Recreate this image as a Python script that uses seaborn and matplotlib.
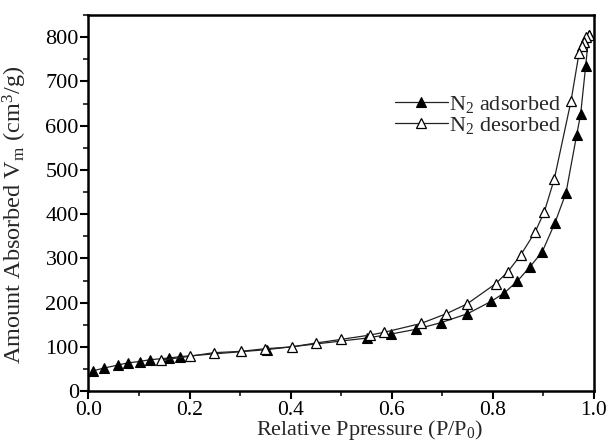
import matplotlib
matplotlib.use("Agg")
import matplotlib.pyplot as plt
import seaborn as sns
from matplotlib.ticker import MultipleLocator, FormatStrFormatter

# Adsorption branch (filled triangles)
ads_p = [0.009, 0.030, 0.058, 0.078, 0.101, 0.121, 0.160, 0.181, 0.354,
         0.551, 0.598, 0.649, 0.698, 0.750, 0.797, 0.823, 0.849, 0.873,
         0.898, 0.923, 0.945, 0.966, 0.974, 0.984, 0.990]
ads_v = [46, 52, 59, 64, 67, 71, 75, 78, 94,
         120, 129, 140, 155, 175, 203, 222, 249, 280,
         315, 380, 448, 578, 626, 735, 805]

# Desorption branch (open triangles)
des_p = [0.990, 0.984, 0.981, 0.976, 0.971, 0.955, 0.922, 0.902, 0.884,
         0.855, 0.830, 0.806, 0.749, 0.708, 0.658, 0.585, 0.558, 0.500,
         0.451, 0.402, 0.350, 0.302, 0.248, 0.201, 0.144]
des_v = [805, 800, 790, 780, 765, 656, 480, 405, 360,
         307, 270, 243, 197, 175, 153, 133, 127, 117,
         109, 100, 96, 90, 87, 79, 70]

labels = [r"N$_2$ adsorbed", r"N$_2$ desorbed"]

sns.set_style("ticks")
plt.rcParams["font.family"] = ["Liberation Serif", "DejaVu Serif"]
plt.rcParams["mathtext.fontset"] = "custom"
plt.rcParams["mathtext.rm"] = "Liberation Serif"
plt.rcParams["mathtext.it"] = "Liberation Serif:italic"
plt.rcParams["mathtext.bf"] = "Liberation Serif:bold"

fig = plt.figure(figsize=(6.09, 4.43), dpi=100)
ax = fig.add_axes([0.1453, 0.117, 0.8297, 0.849])

sns.lineplot(x=ads_p, y=ads_v, ax=ax, sort=False, estimator=None,
             color="#222222", linewidth=0.9, marker="^", markersize=7.5,
             markerfacecolor="black", markeredgecolor="black",
             markeredgewidth=0.8, label=labels[0])
sns.lineplot(x=des_p, y=des_v, ax=ax, sort=False, estimator=None,
             color="#222222", linewidth=0.9, marker="^", markersize=7.5,
             markerfacecolor="white", markeredgecolor="black",
             markeredgewidth=0.9, label=labels[1])

ax.set_xlim(0, 1.0)
ax.set_ylim(0, 850)
ax.xaxis.set_major_locator(MultipleLocator(0.2))
ax.xaxis.set_minor_locator(MultipleLocator(0.1))
ax.yaxis.set_major_locator(MultipleLocator(100))
ax.yaxis.set_minor_locator(MultipleLocator(50))
ax.xaxis.set_major_formatter(FormatStrFormatter("%.1f"))

for s in ax.spines.values():
    s.set_linewidth(1.8)
    s.set_color("black")
ax.tick_params(which="major", direction="out", length=5.5, width=1.5,
               labelsize=16, colors="black", top=False, right=False, pad=1.5)
ax.tick_params(axis="x", which="major", labelsize=15.5)
ax.tick_params(which="minor", direction="out", length=3.5, width=1.3,
               top=False, right=False)

ax.set_xlabel(r"Relative Ppressure (P/P$_0$)", fontsize=16)
ax.set_ylabel(r"Amount Absorbed V$_{\rm m}$ (cm$^3$/g)", fontsize=17.5)
ax.xaxis.set_label_coords(0.557, -0.072)
ax.yaxis.set_label_coords(-0.118, 0.47)

ax.legend(loc="upper left", bbox_to_anchor=(0.606, 0.79), frameon=False,
          borderpad=0, borderaxespad=0, handlelength=2.4, handletextpad=0.05,
          labelspacing=0.0, fontsize=16)

fig.savefig("out.png", dpi=100)
